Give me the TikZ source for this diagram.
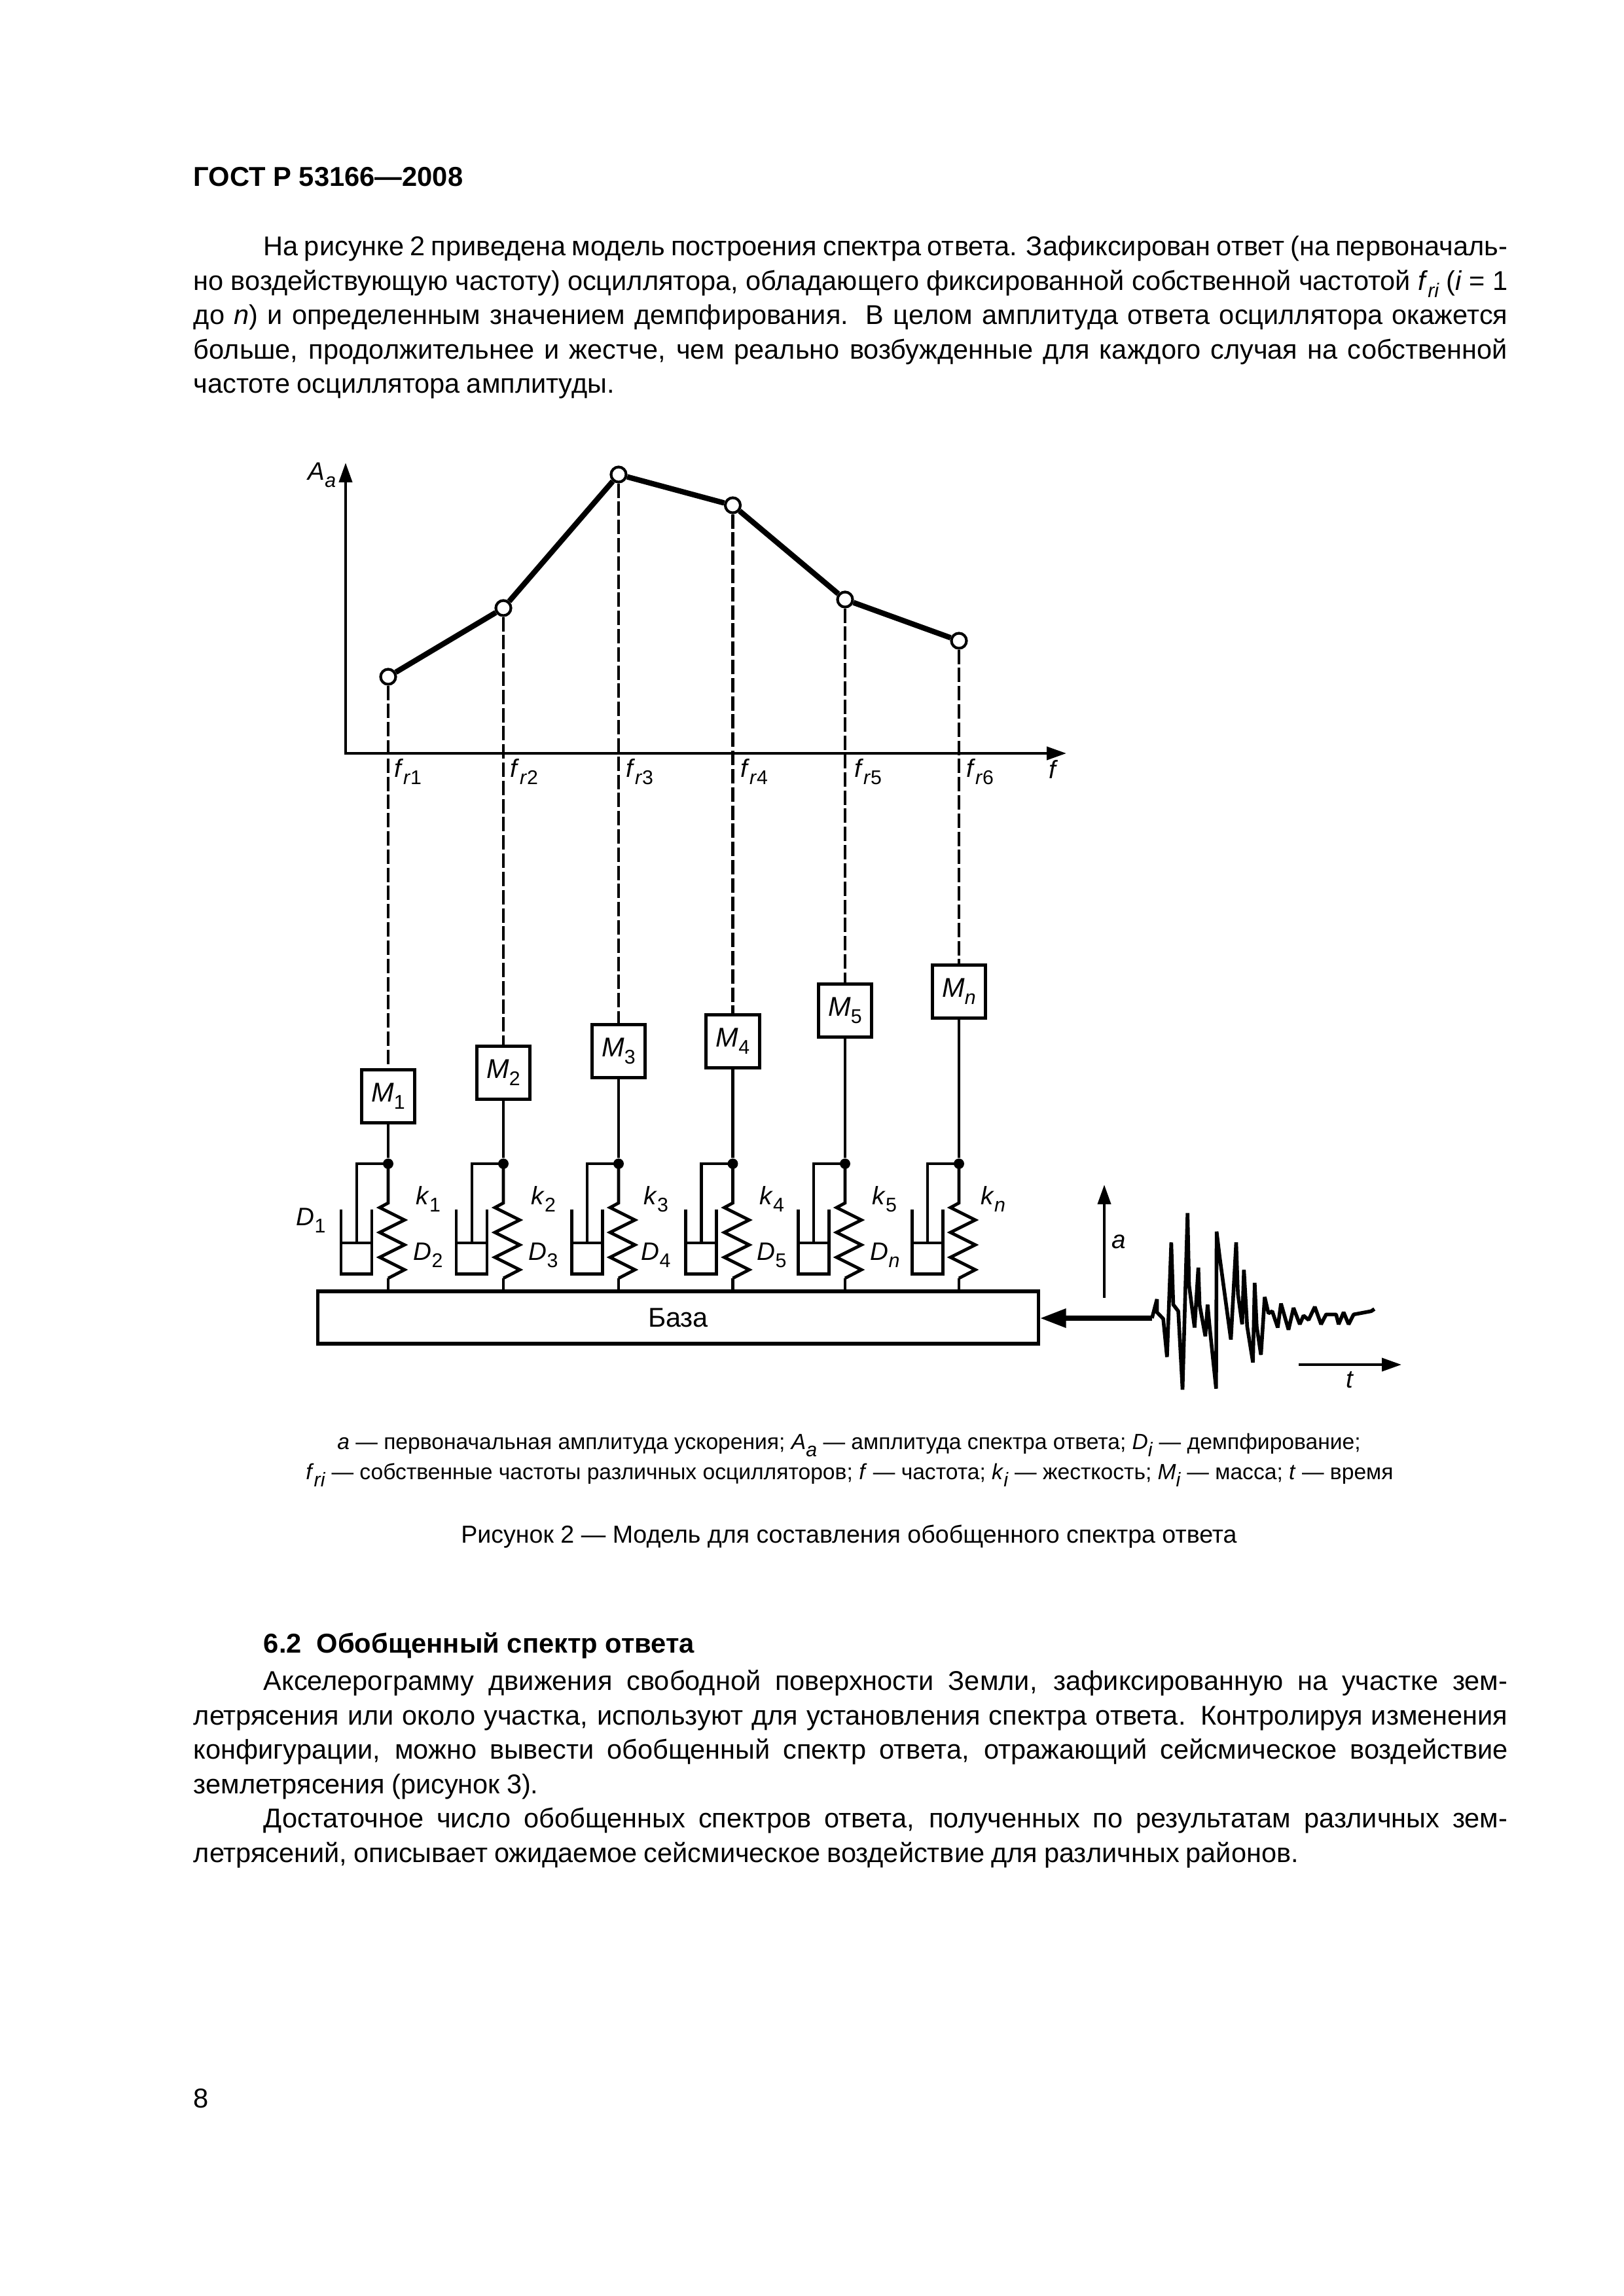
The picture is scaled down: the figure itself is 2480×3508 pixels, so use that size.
\documentclass[tikz,border=0pt]{standalone}
\usepackage{fontspec}
\setmainfont{Liberation Sans}
\usetikzlibrary{arrows.meta,calc}

\newcommand{\lbl}[2]{\textit{#1}\raisebox{-2.6pt}{\fontsize{7.3}{7.3}\selectfont #2}}
\newcommand{\tightsp}{\spaceskip=0.24em plus 0.3em minus 0.06em\relax}

\tikzset{
    bodytext/.style={anchor=north west, inner sep=0pt, text width=170mm, align=justify, font=\fontsize{10}{12.65}\selectfont},
    legendtext/.style={inner sep=0pt, font=\fontsize{8.1}{10}\selectfont},
    marktext/.style={inner sep=0pt, font=\fontsize{9.3}{10}\selectfont},
    axisline/.style={line width=1pt, {Triangle[length=7.2pt,width=4.8pt]}-{Triangle[length=7.2pt,width=4.8pt]}},
    curveline/.style={line width=2pt},
    guideline/.style={line width=1.05pt, dash pattern=on 5.3pt off 1.4pt},
    stemline/.style={line width=1.15pt},
    boxline/.style={line width=1.2pt},
    ptmark/.style={circle, draw, fill=white, line width=1pt, minimum size=1.95mm, inner sep=0pt},
    massbox/.style={rectangle, draw, fill=white, line width=1.2pt, minimum size=6.9mm, inner sep=0pt, font=\fontsize{10}{10}\selectfont},
    jointmark/.style={circle, fill=black, minimum size=1.35mm, inner sep=0pt},
    oscbody/.pic={
        % Демпфер
        \draw[stemline] (0,0) -- (-48,0) -- (-48,121);
        \draw[boxline] (-72,70) -- (-72,168) -- (-25,168) -- (-25,70);
        \draw[stemline] (-72,121) -- (-25,121);
        % Пружина
        \draw[stemline, line join=miter] (0,0) -- (0,60) -- (-13,67) -- (25,86) -- (-13,105)
            -- (25,124) -- (-13,143) -- (25,162) -- (0,175);
        \coordinate (-bot) at (0,175);
    }
}

\begin{document}
\begin{tikzpicture}[x=0.008467cm, y=-0.008467cm]
    \useasboundingbox (0,0) rectangle (2480,3508);

    % =========================================================
    % ТЕКСТ СТРАНИЦЫ
    % =========================================================
    \node[anchor=west, inner sep=0pt, font=\fontsize{10.05}{12}\selectfont\bfseries] (head) at (295,270) {ГОСТ Р 53166—2008};
    \node[bodytext] (para1) at (295,360) {\tightsp\hspace*{9.06mm}На рисунке 2 приведена модель построения спектра ответа. Зафиксирован ответ (на первоначаль-\linebreak
        но воздействующую частоту) осциллятора, обладающего фиксированной собственной частотой \lbl{f}{\textit{ri}} (\textit{i} = 1\linebreak
        до \textit{n}) и определенным значением демпфирования. В целом амплитуда ответа осциллятора окажется\linebreak
        больше, продолжительнее и жестче, чем реально возбужденные для каждого случая на собственной\linebreak
        частоте осциллятора амплитуды.};

    % =========================================================
    % СПЕКТР ОТВЕТА
    % =========================================================
    \coordinate (orig) at (528,1151);
    \coordinate (ytip) at (528,707);
    \coordinate (xtip) at (1629,1151);
    \draw[axisline] (ytip) -- (orig) -- (xtip);
    \node[marktext] (aalbl) at (492,726) {\lbl{A}{\textit{a}}};
    \node[marktext] (flbl) at (1610,1176) {\textit{f}};

    \node[ptmark] (p1) at (593,1034) {};
    \node[ptmark] (p2) at (769,929) {};
    \node[ptmark] (p3) at (945,725) {};
    \node[ptmark] (p4) at (1119.5,772) {};
    \node[ptmark] (p5) at (1291,916) {};
    \node[ptmark] (p6) at (1465,979) {};
    \draw[curveline] (p1) -- (p2) -- (p3) -- (p4) -- (p5) -- (p6);

    \node[marktext] (fr1) at (623,1179) {\lbl{f}{\textit{r}1}};
    \node[marktext] (fr2) at (801,1179) {\lbl{f}{\textit{r}2}};
    \node[marktext] (fr3) at (977,1179) {\lbl{f}{\textit{r}3}};
    \node[marktext] (fr4) at (1152,1179) {\lbl{f}{\textit{r}4}};
    \node[marktext] (fr5) at (1326,1179) {\lbl{f}{\textit{r}5}};
    \node[marktext] (fr6) at (1497,1179) {\lbl{f}{\textit{r}6}};

    % =========================================================
    % ОСЦИЛЛЯТОРЫ НА БАЗЕ
    % =========================================================
    \node[rectangle, draw, line width=1.25pt, minimum width=93.2mm, minimum height=6.77mm, inner sep=0pt, font=\fontsize{10}{12}\selectfont] (base) at (1036,2013) {База};

    % Осциллятор 1
    \node[massbox] (m1) at (593,1675) {\lbl{M}{1}};
    \node[jointmark] (j1) at (593,1778) {};
    \pic (o1) at (593,1778) {oscbody};
    \draw[guideline] (p1) -- (m1);
    \draw[stemline] (m1) -- (j1);
    \draw[stemline] (o1-bot) -- (o1-bot |- base.north);
    \node[marktext] (k1) at (654,1832) {\lbl{k}{1}};
    \node[marktext] (d1) at (475,1865) {\lbl{D}{1}};

    % Осциллятор 2
    \node[massbox] (m2) at (769,1639) {\lbl{M}{2}};
    \node[jointmark] (j2) at (769,1778) {};
    \pic (o2) at (769,1778) {oscbody};
    \draw[guideline] (p2) -- (m2);
    \draw[stemline] (m2) -- (j2);
    \draw[stemline] (o2-bot) -- (o2-bot |- base.north);
    \node[marktext] (k2) at (830,1832) {\lbl{k}{2}};
    \node[marktext] (d2) at (654,1918) {\lbl{D}{2}};

    % Осциллятор 3
    \node[massbox] (m3) at (945,1606) {\lbl{M}{3}};
    \node[jointmark] (j3) at (945,1778) {};
    \pic (o3) at (945,1778) {oscbody};
    \draw[guideline] (p3) -- (m3);
    \draw[stemline] (m3) -- (j3);
    \draw[stemline] (o3-bot) -- (o3-bot |- base.north);
    \node[marktext] (k3) at (1002,1832) {\lbl{k}{3}};
    \node[marktext] (d3) at (830,1918) {\lbl{D}{3}};

    % Осциллятор 4
    \node[massbox] (m4) at (1119.5,1591) {\lbl{M}{4}};
    \node[jointmark] (j4) at (1119.5,1778) {};
    \pic (o4) at (1119.5,1778) {oscbody};
    \draw[guideline] (p4) -- (m4);
    \draw[stemline] (m4) -- (j4);
    \draw[stemline] (o4-bot) -- (o4-bot |- base.north);
    \node[marktext] (k4) at (1179,1832) {\lbl{k}{4}};
    \node[marktext] (d4) at (1002,1918) {\lbl{D}{4}};

    % Осциллятор 5
    \node[massbox] (m5) at (1291,1544) {\lbl{M}{5}};
    \node[jointmark] (j5) at (1291,1778) {};
    \pic (o5) at (1291,1778) {oscbody};
    \draw[guideline] (p5) -- (m5);
    \draw[stemline] (m5) -- (j5);
    \draw[stemline] (o5-bot) -- (o5-bot |- base.north);
    \node[marktext] (k5) at (1351,1832) {\lbl{k}{5}};
    \node[marktext] (d5) at (1179,1918) {\lbl{D}{5}};

    % Осциллятор n
    \node[massbox] (mn) at (1465,1515) {\lbl{M}{\textit{n}}};
    \node[jointmark] (jn) at (1465,1778) {};
    \pic (on) at (1465,1778) {oscbody};
    \draw[guideline] (p6) -- (mn);
    \draw[stemline] (mn) -- (jn);
    \draw[stemline] (on-bot) -- (on-bot |- base.north);
    \node[marktext] (kn) at (1517,1832) {\lbl{k}{\textit{n}}};
    \node[marktext] (dn) at (1352,1918) {\lbl{D}{\textit{n}}};

    % =========================================================
    % ВОЗДЕЙСТВИЕ
    % =========================================================
    \coordinate (wavestart) at (1760,2014);
    \draw[line width=1.8pt, -{Triangle[length=9.6pt,width=6.7pt]}] (wavestart) -- (base.east |- wavestart);

    \coordinate (afoot) at (1687,1983);
    \coordinate (atip) at (1687,1810);
    \draw[line width=1pt, -{Triangle[length=7.2pt,width=4.8pt]}] (afoot) -- (atip);
    \node[marktext] (albl) at (1709,1897) {\textit{a}};

    \coordinate (tfoot) at (1984,2085);
    \coordinate (ttip) at (2141,2085);
    \draw[line width=1pt, -{Triangle[length=7.2pt,width=4.8pt]}] (tfoot) -- (ttip);
    \node[marktext] (tlbl) at (2063,2108) {\textit{t}};

    \begin{scope}[shift={(1580,1780)}, xscale=0.3827, yscale=0.3333]
        \draw[line width=1.35pt, line join=bevel] (470,702) -- (490,615) -- (490,675) -- (515,705) -- (530,880) -- (547,355)
            -- (555,640) -- (575,670) -- (592,1030) -- (612,220) -- (618,550) -- (640,745) -- (655,470)
            -- (660,640) -- (683,785) -- (692,640) -- (700,740) -- (726,1025) -- (728,305) -- (740,420)
            -- (785,800) -- (806,355) -- (813,590) -- (830,730) -- (837,480) -- (850,740) -- (873,905)
            -- (880,540) -- (888,740) -- (905,870) -- (920,605) -- (935,680) -- (950,670) -- (972,745)
            -- (985,635) -- (1015,755) -- (1035,655) -- (1060,730) -- (1075,690) -- (1095,710) -- (1120,650)
            -- (1145,730) -- (1165,685) -- (1205,685) -- (1215,730) -- (1235,675) -- (1255,730) -- (1275,685)
            -- (1345,670) -- (1358,660);
    \end{scope}

    % =========================================================
    % ПОДПИСИ
    % =========================================================
    \node[legendtext] (leg1) at (1297,2208) {\textit{a} — первоначальная амплитуда ускорения; \lbl{A}{\textit{a}} — амплитуда спектра ответа; \lbl{D}{\textit{i}} — демпфирование;};
    \node[legendtext] (leg2) at (1298,2254) {\lbl{f}{\textit{ri}} — собственные частоты различных осцилляторов; \textit{f} — частота; \lbl{k}{\textit{i}} — жесткость; \lbl{M}{\textit{i}} — масса; \textit{t} — время};
    \node[legendtext, font=\fontsize{9.05}{11}\selectfont] (capt) at (1297,2348) {Рисунок 2 — Модель для составления обобщенного спектра ответа};

    % =========================================================
    % РАЗДЕЛ 6.2
    % =========================================================
    \node[anchor=west, inner sep=0pt, font=\fontsize{10.05}{12}\selectfont\bfseries] (head62) at (402,2514) {6.2\hspace{0.55em}Обобщенный спектр ответа};
    \node[bodytext] (para2) at (295,2551) {\tightsp\hspace*{9.06mm}Акселерограмму движения свободной поверхности Земли, зафиксированную на участке зем-\linebreak
        летрясения или около участка, используют для установления спектра ответа. Контролируя изменения\linebreak
        конфигурации, можно вывести обобщенный спектр ответа, отражающий сейсмическое воздействие\linebreak
        землетрясения (рисунок 3).\par
        \hspace*{9.06mm}Достаточное число обобщенных спектров ответа, полученных по результатам различных зем-\linebreak
        летрясений, описывает ожидаемое сейсмическое воздействие для различных районов.};
    \node[anchor=west, inner sep=0pt, font=\fontsize{10.05}{12}\selectfont] (pageno) at (295,3206) {8};
\end{tikzpicture}
\end{document}
